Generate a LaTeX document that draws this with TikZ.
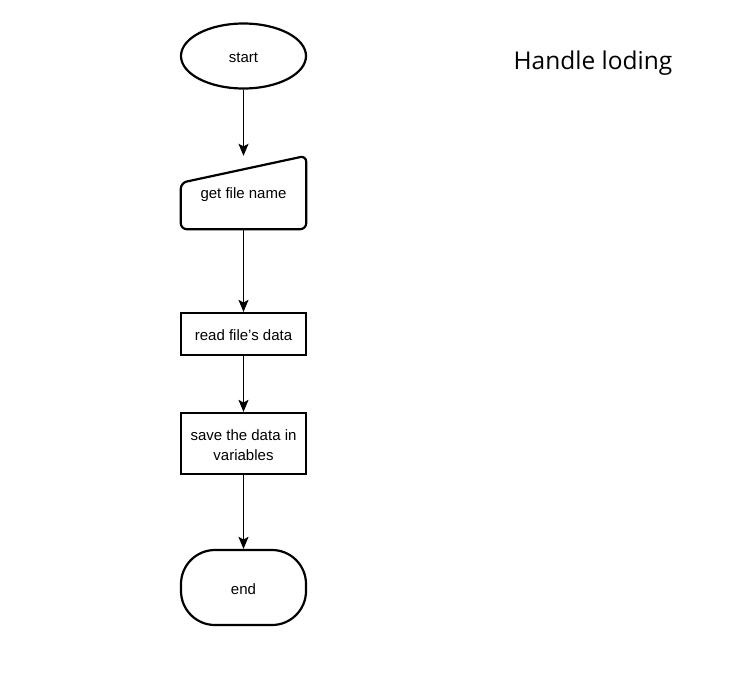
\documentclass[tikz,border=0pt]{standalone}
\usepackage{fontspec}
\setmainfont{Liberation Sans}
\newfontfamily\titlefont{Open Sans}
\usetikzlibrary{arrows.meta,shapes.geometric}
\begin{document}
\begin{tikzpicture}[x=1pt,y=-1pt,
  shapeline/.style={draw=black,line width=2.2pt},
  proc/.style={shapeline,rectangle,minimum width=125pt,inner sep=0pt},
  flowarrow/.style={draw=black,line width=1.2pt,-{Stealth[length=12pt,width=10pt,inset=2.5pt]}},
  txt/.style={font=\fontsize{15}{20}\selectfont,align=center,inner sep=0pt}]
\useasboundingbox[fill=white] (0,0) rectangle (747,683);
% start
\node[shapeline,ellipse,minimum width=125pt,minimum height=65pt,inner sep=0pt] (start) at (243.5,56) {};
\node[txt] (starttxt) at (243.5,57.5) {start};
% manual input
\node[rectangle,minimum width=125pt,minimum height=73pt,inner sep=0pt] (get) at (243.5,192.5) {};
\draw[shapeline,rounded corners=6pt] (get.south west) -- ([yshift=-27pt]get.north west) -- (get.north east) -- (get.south east) -- cycle;
\node[txt] (gettxt) at (243.5,194.5) {get file name};
% read
\node[proc,minimum height=42pt] (read) at (243.5,334) {};
\node[txt] (readtxt) at (243.5,335.5) {read file's data};
% save
\node[proc,minimum height=61pt] (save) at (243.5,443.5) {};
\node[txt] (savetxt) at (243.5,445.5) {save the data in\\variables};
% end
\node[shapeline,rectangle,rounded corners=34pt,minimum width=125pt,minimum height=75pt,inner sep=0pt] (end) at (243.5,587.5) {};
\node[txt] (endtxt) at (243.5,589) {end};
% title
\node[font=\titlefont\fontsize{24.5}{29}\selectfont,anchor=center] (title) at (593,63) {Handle loding};
% arrows
\draw[flowarrow] (start.south) -- (get.north);
\draw[flowarrow] (get.south) -- (read.north);
\draw[flowarrow] (read.south) -- (save.north);
\draw[flowarrow] (save.south) -- (end.north);
\end{tikzpicture}
\end{document}
